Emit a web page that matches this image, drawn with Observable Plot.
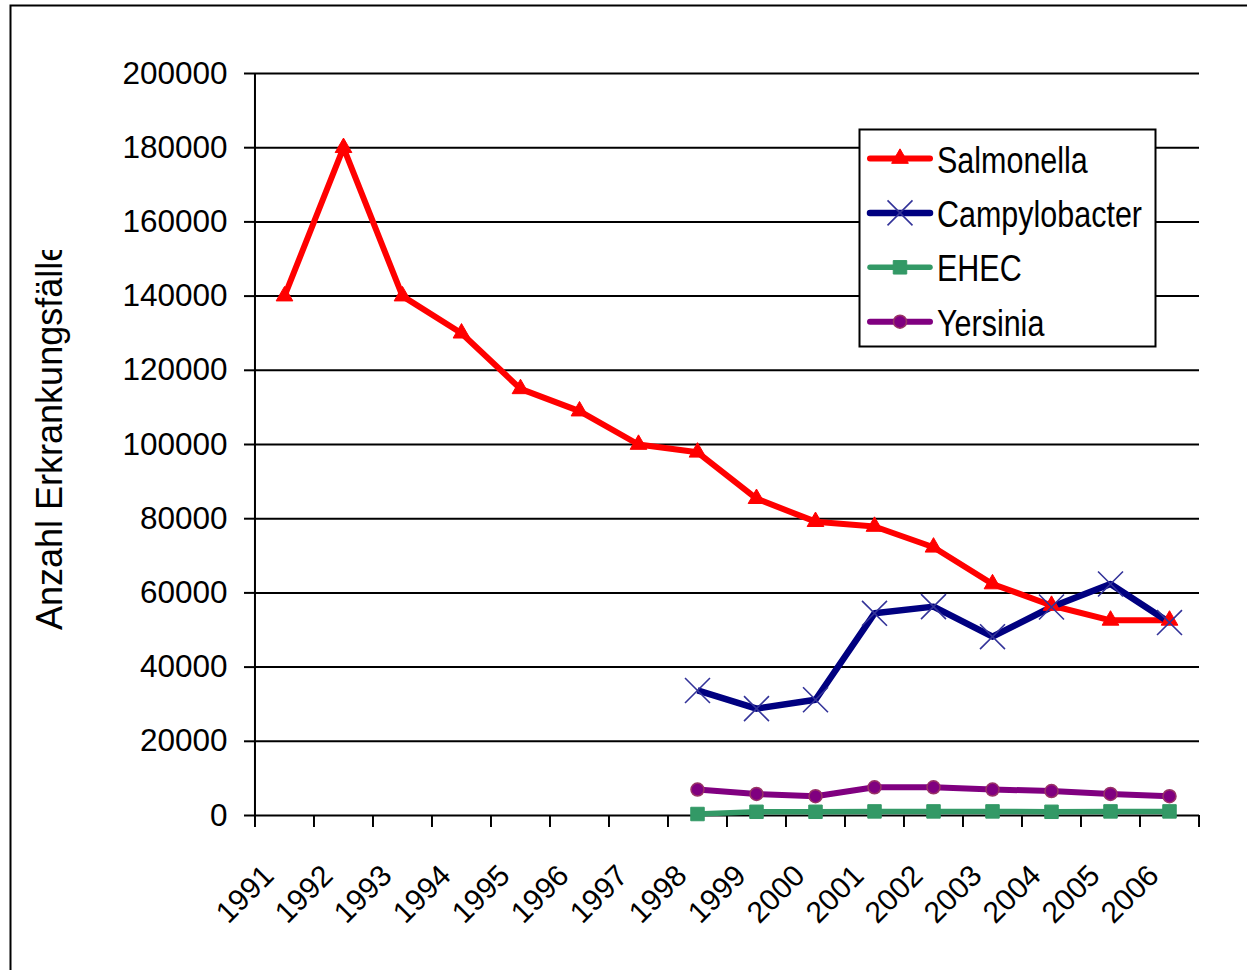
<!DOCTYPE html>
<html>
<head>
<meta charset="utf-8">
<script src="https://cdn.jsdelivr.net/npm/d3@7"></script>
<script src="https://cdn.jsdelivr.net/npm/@observablehq/plot@0.6"></script>
<style>
  html, body { margin: 0; padding: 0; background: #fff; }
  #chart svg { display: block; }
</style>
</head>
<body>
<div id="chart"></div>
<script>
// ---- data ----
const years = ["1991","1992","1993","1994","1995","1996","1997","1998","1999","2000","2001","2002","2003","2004","2005","2006"];
const laterYears = ["1998","1999","2000","2001","2002","2003","2004","2005","2006"];
const yTicks = [0,20000,40000,60000,80000,100000,120000,140000,160000,180000,200000];
const salmonella    = [140000,180000,140000,130000,115000,109000,100000,97900,85400,79200,77900,72300,62400,56600,52600,52600];
const campylobacter = [33700,28800,31200,54500,56300,48200,56200,62400,52000];
const ehec          = [400,1000,1000,1100,1100,1100,1000,1100,1100];
const yersinia      = [7000,5800,5200,7600,7600,7000,6600,5800,5200];
const seriesNames = ["Salmonella","Campylobacter","EHEC","Yersinia"];
const yTitle = "Anzahl Erkrankungsfälle";

// ---- styling ----
const FONT = "'Liberation Sans', Arial, Helvetica, sans-serif";
const W = 1247, H = 970, ML = 254, MR = 48, MT = 73, MB = 155;
const step = (W - ML - MR) / years.length;

const mk = (xs, vs) => xs.map((x, i) => ({year: x, value: vs[i]}));
const datasets = [mk(years, salmonella), mk(laterYears, campylobacter), mk(laterYears, ehec), mk(laterYears, yersinia)];

const styles = [
  {line: "#ff0000", lw: 6,   symbol: "triangle", r: 6.2, fill: "#ff0000", stroke: "#ff0000", sw: 1},
  {line: "#000080", lw: 6.5, symbol: "times",    r: 11.4, fill: "none",   stroke: "#333399", sw: 1.6},
  {line: "#339966", lw: 5.5, symbol: "square",   r: 7.6, fill: "#339966", stroke: "#339966", sw: 1},
  {line: "#800080", lw: 6,   symbol: "circle",   r: 6.5, fill: "#800080", stroke: "#993366", sw: 1.5}
];

const lineMarks = datasets.map((d, i) => Plot.line(d, {
  x: "year", y: "value", stroke: styles[i].line, strokeWidth: styles[i].lw,
  strokeLinejoin: "round", strokeLinecap: "butt"
}));
const dotMarks = datasets.map((d, i) => Plot.dot(d, {
  x: "year", y: "value", symbol: () => styles[i].symbol, r: styles[i].r,
  fill: styles[i].fill, stroke: styles[i].stroke, strokeWidth: styles[i].sw
}));

const plot = Plot.plot({
  width: W, height: H,
  marginLeft: ML, marginRight: MR, marginTop: MT, marginBottom: MB,
  style: {fontFamily: FONT, fontSize: "30px", color: "#000", background: "#fff", overflow: "visible"},
  x: {type: "point", domain: years, padding: 0.5},
  y: {domain: [0, 200000]},
  symbol: {type: "identity"},
  marks: [
    Plot.ruleY(yTicks, {stroke: "#000", strokeWidth: 2}),
    Plot.ruleX([years[0]], {x: d => d, y1: 0, y2: 200000, dx: -step / 2, stroke: "#000", strokeWidth: 2}),
    Plot.axisY({ticks: yTicks, tickSize: 10, tickPadding: 17, tickFormat: d => String(d),
                fontSize: 31.5, label: null, strokeWidth: 2}),
    Plot.axisX({ticks: years, tickSize: 12, tickFormat: () => "", dx: -step / 2, label: null, strokeWidth: 2}),
    Plot.axisX({ticks: [years[years.length - 1]], tickSize: 12, tickFormat: () => "", dx: step / 2, label: null, strokeWidth: 2}),
    Plot.text(years, {x: d => d, text: d => d, frameAnchor: "bottom", rotate: -45,
                      textAnchor: "end", lineAnchor: "bottom", dx: -9, dy: 62, fontSize: 30, fill: "#000"}),
    ...lineMarks,
    ...dotMarks
  ]
});

document.getElementById("chart").appendChild(plot);

// ---- extras: outer border, y title (clipped), legend ----
const svg = d3.select(plot);
svg.append("rect").attr("x", 10.5).attr("y", 5.5).attr("width", W + 20).attr("height", H + 20)
   .attr("fill", "none").attr("stroke", "#000").attr("stroke-width", 2);

const defs = svg.append("defs");
defs.append("clipPath").attr("id", "titleclip")
    .append("rect").attr("x", 12).attr("y", 250).attr("width", 230).attr("height", 700);
svg.append("g").attr("clip-path", "url(#titleclip)")
   .append("text")
   .attr("transform", "translate(62,630) rotate(-90)")
   .attr("text-anchor", "start")
   .attr("font-family", FONT).attr("font-size", 36).attr("fill", "#000")
   .text(yTitle);

const lg = svg.append("g");
lg.append("rect").attr("x", 859.5).attr("y", 129.5).attr("width", 296).attr("height", 217)
  .attr("fill", "#fff").attr("stroke", "#000").attr("stroke-width", 2);
const symMap = {triangle: d3.symbolTriangle, times: d3.symbolTimes, square: d3.symbolSquare, circle: d3.symbolCircle};
seriesNames.forEach((name, i) => {
  const s = styles[i];
  const cy = 158.5 + i * 54.4;
  lg.append("line").attr("x1", 870).attr("x2", 930).attr("y1", cy).attr("y2", cy)
    .attr("stroke", s.line).attr("stroke-width", s.lw).attr("stroke-linecap", "round");
  lg.append("path").attr("d", d3.symbol(symMap[s.symbol], Math.PI * s.r * s.r)())
    .attr("transform", `translate(900,${cy})`)
    .attr("fill", s.fill).attr("stroke", s.stroke).attr("stroke-width", s.sw);
  lg.append("g").attr("transform", `translate(937,${cy + 14}) scale(1,1.2)`)
    .append("text").attr("text-anchor", "start")
    .attr("font-family", FONT).attr("font-size", 30.5).attr("fill", "#000").text(name);
});
</script>
</body>
</html>
